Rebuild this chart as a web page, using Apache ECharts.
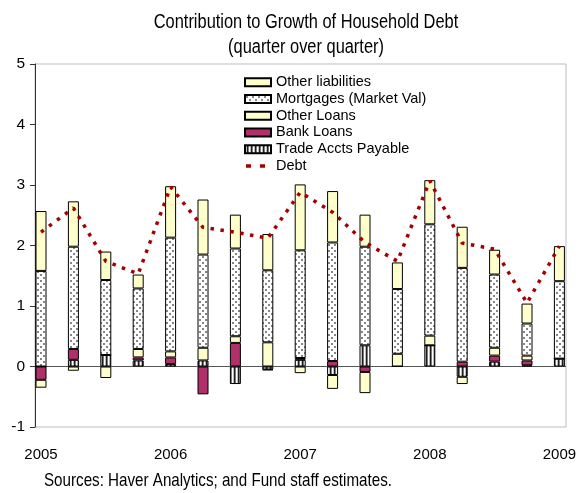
<!DOCTYPE html>
<html>
<head>
<meta charset="utf-8">
<script src="https://cdn.jsdelivr.net/npm/echarts@6/dist/echarts.min.js"></script>
<style>
html, body { margin: 0; padding: 0; background: #fff; }
#chart { width: 580px; height: 493px; }
</style>
</head>
<body>
<div id="chart"></div>
<script>
// quarterly contributions, 2005Q1 .. 2009Q1 (percent, q/q)
const quarters = ['2005Q1','2005Q2','2005Q3','2005Q4','2006Q1','2006Q2','2006Q3','2006Q4',
                  '2007Q1','2007Q2','2007Q3','2007Q4','2008Q1','2008Q2','2008Q3','2008Q4','2009Q1'];

const tradeAccts = [0, 0.11, 0.19, 0.10, 0.04, 0.10, -0.29, -0.05, 0.11, -0.14, 0.35, 0, 0.35, -0.17, 0.08, 0.02, 0.13];
const bankLoans = [-0.22, 0.18, 0, 0.05, 0.11, -0.46, 0.39, -0.01, 0.03, 0.09, -0.09, 0, 0, 0.08, 0.10, 0.08, 0];
const otherLoans = [-0.13, -0.07, -0.19, 0.14, 0.10, 0.21, 0.11, 0.40, -0.11, -0.23, -0.35, 0.21, 0.16, -0.12, 0.13, 0.08, 0];
const mortgages = [1.58, 1.69, 1.24, 1.00, 1.88, 1.54, 1.45, 1.19, 1.78, 1.96, 1.63, 1.07, 1.84, 1.55, 1.21, 0.53, 1.28];
const otherLiab = [0.99, 0.75, 0.47, 0.23, 0.85, 0.91, 0.56, 0.60, 1.09, 0.85, 0.53, 0.44, 0.73, 0.68, 0.41, 0.33, 0.58];
const debt = [2.22, 2.62, 1.74, 1.53, 2.97, 2.30, 2.22, 2.12, 2.88, 2.55, 2.05, 1.74, 3.07, 2.04, 1.94, 1.05, 1.99];

const FONT = "'Liberation Sans', Arial, sans-serif";
const NARROW = 0.82;   // no narrow face installed, squeeze the free texts instead

// fills
function dotPattern() {
    const c = document.createElement('canvas');
    c.width = 6; c.height = 6;
    const g = c.getContext('2d');
    g.fillStyle = '#fff'; g.fillRect(0, 0, 6, 6);
    g.fillStyle = '#858585';
    g.fillRect(1, 1, 2, 2);
    g.fillRect(4, 4, 2, 2);
    return c;
}
function stripePattern() {
    const c = document.createElement('canvas');
    c.width = 4; c.height = 4;
    const g = c.getContext('2d');
    const cols = ['#ffffff', '#bdbdbd', '#1e1e1e', '#7a7a7a'];
    cols.forEach((col, i) => { g.fillStyle = col; g.fillRect(i, 0, 1, 4); });
    return c;
}

function barSeries(name, values, color) {
    return {
        name: name,
        type: 'bar',
        stack: 'debt',
        barWidth: 11,
        data: values,
        itemStyle: { color: color, borderColor: '#000', borderWidth: 1 },
        emphasis: { disabled: true },
        z: 3
    };
}

const chart = echarts.init(document.getElementById('chart'));

// only the zero split line is drawn
const splitColors = [-1, 0, 1, 2, 3, 4, 5].map(v => v === 0 ? '#555' : 'rgba(0,0,0,0)');

// two small squares, padded with tiny corner dots so the icon keeps a 26x8 box
const debtIcon = 'path://M0,0h0.1v0.1h-0.1zM25.9,7.9h0.1v0.1h-0.1zM1,2.5h5v3.5h-5zM15,2.5h5v3.5h-5z';

chart.setOption({
    animation: false,
    backgroundColor: '#fff',
    grid: [
        { left: 24.8, right: 4.4, top: 64, bottom: 66 },
        { left: 35, right: 14, top: 64, bottom: 66, show: true, borderColor: '#bdbdbd', borderWidth: 1 }
    ],
    legend: {
        orient: 'vertical',
        left: 244,
        top: 74,
        padding: 0,
        itemWidth: 26,
        itemHeight: 8,
        itemGap: 0,
        icon: 'rect',
        selectedMode: false,
        textStyle: { fontFamily: FONT, fontSize: 14.5, color: '#000', lineHeight: 16.7 },
        data: [
            'Other liabilities',
            'Mortgages (Market Val)',
            'Other Loans',
            'Bank Loans',
            'Trade Accts Payable',
            { name: 'Debt', icon: debtIcon, itemStyle: { color: '#a40000', borderWidth: 0 } }
        ]
    },
    xAxis: [
        {
            gridIndex: 0,
            type: 'category',
            data: quarters,
            boundaryGap: true,
            axisLine: { show: false },
            axisTick: { show: false },
            axisLabel: {
                interval: 3,
                formatter: v => v.slice(0, 4),
                fontFamily: FONT, fontSize: 15, color: '#000', margin: 20
            }
        },
        { gridIndex: 1, type: 'value', min: 0, max: 1, show: false }
    ],
    yAxis: [
        { gridIndex: 0, type: 'value', min: -1, max: 5, interval: 1, show: false },
        {
            gridIndex: 1,
            type: 'value',
            min: -1,
            max: 5,
            interval: 1,
            axisLine: { show: true, lineStyle: { color: '#333' } },
            axisTick: { show: true, length: 5, lineStyle: { color: '#333' } },
            splitLine: { show: true, lineStyle: { color: splitColors, width: 1 } },
            axisLabel: { fontFamily: FONT, fontSize: 15.5, color: '#000', margin: 10 }
        }
    ],
    graphic: [
        {
            type: 'text', x: 306, y: 10, scaleX: NARROW,
            style: {
                text: 'Contribution to Growth of Household Debt\n(quarter over quarter)',
                font: '20px ' + FONT, fill: '#000', align: 'center', lineHeight: 25
            }
        },
        {
            type: 'text', x: 44, y: 471, scaleX: NARROW,
            style: {
                text: 'Sources: Haver Analytics; and Fund staff estimates.',
                font: '18.5px ' + FONT, fill: '#000'
            }
        }
    ],
    series: [
        barSeries('Trade Accts Payable', tradeAccts, { image: stripePattern(), repeat: 'repeat' }),
        barSeries('Bank Loans', bankLoans, '#b2306a'),
        barSeries('Other Loans', otherLoans, '#ffffcc'),
        barSeries('Mortgages (Market Val)', mortgages, { image: dotPattern(), repeat: 'repeat' }),
        barSeries('Other liabilities', otherLiab, '#ffffcc'),
        {
            name: 'Debt',
            type: 'line',
            data: debt,
            symbol: 'none',
            lineStyle: { color: '#a40000', width: 3.5, type: [3.5, 6.5], cap: 'butt' },
            itemStyle: { color: '#a40000' },
            z: 5
        }
    ]
});
</script>
</body>
</html>
